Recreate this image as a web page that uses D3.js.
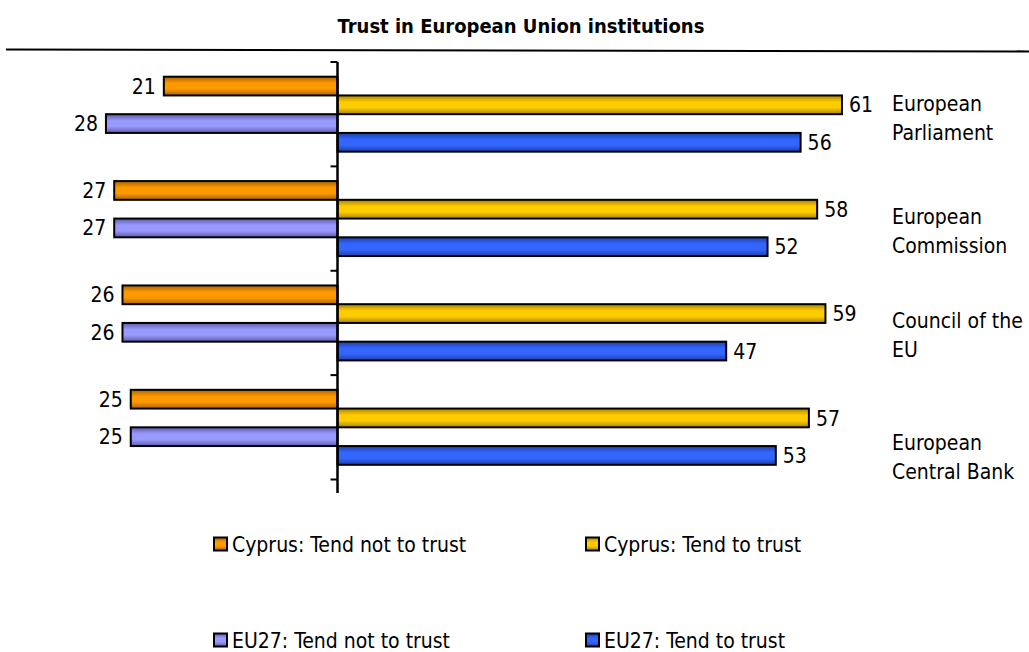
<!DOCTYPE html>
<html>
<head>
<meta charset="utf-8">
<script src="https://cdn.jsdelivr.net/npm/d3@7"></script>
<style>
  html, body { margin: 0; padding: 0; background: #fff; }
  svg { display: block; }
  text { font-family: "DejaVu Sans Condensed", "DejaVu Sans", sans-serif; font-stretch: condensed; fill: #000; }
</style>
</head>
<body>
<svg id="chart" width="1029" height="652"></svg>
<script>
// ---- data ----
const title = "Trust in European Union institutions";
const categories = ["European Parliament", "European Commission", "Council of the EU", "European Central Bank"];
const categoryLines = [["European", "Parliament"], ["European", "Commission"], ["Council of the", "EU"], ["European", "Central Bank"]];
const seriesNames = ["Cyprus: Tend not to trust", "Cyprus: Tend to trust", "EU27: Tend not to trust", "EU27: Tend to trust"];
const cyprusNotTrust = [21, 27, 26, 25];
const cyprusTrust = [61, 58, 59, 57];
const eu27NotTrust = [28, 27, 26, 25];
const eu27Trust = [56, 52, 47, 53];

// ---- styling ----
const seriesValues = [cyprusNotTrust, cyprusTrust, eu27NotTrust, eu27Trust];
const seriesSide = [-1, 1, -1, 1];
const colors = [
  { edge: "#a86400", mid: "#ff9900" },
  { edge: "#a88400", mid: "#ffcc00" },
  { edge: "#5c5ca8", mid: "#9999ff" },
  { edge: "#1d3fa8", mid: "#3366ff" }
];
const labelShift = [4, 12, 12, 30];
const fontSize = "21px";

const svg = d3.select("#chart");
const defs = svg.append("defs");
colors.forEach((c, i) => {
  const g = defs.append("linearGradient").attr("id", "grad" + i)
    .attr("x1", 0).attr("y1", 0).attr("x2", 0).attr("y2", 1);
  g.append("stop").attr("offset", "0%").attr("stop-color", c.edge);
  g.append("stop").attr("offset", "35%").attr("stop-color", c.mid);
  g.append("stop").attr("offset", "65%").attr("stop-color", c.mid);
  g.append("stop").attr("offset", "100%").attr("stop-color", c.edge);
});

// title + rule
svg.append("text").attr("x", 521).attr("y", 33).attr("text-anchor", "middle")
  .style("font-size", "20px").style("font-weight", "bold").text(title);
svg.append("line").attr("x1", 6).attr("y1", 49.5).attr("x2", 1029).attr("y2", 51.5)
  .attr("stroke", "#000").attr("stroke-width", 2.2);

// scales
const unit = 8.27;
const x0 = 337.5;
const x = d3.scaleLinear().domain([-30, 70]).range([x0 - 30 * unit, x0 + 70 * unit]);
const y = d3.scaleBand().domain(categories).range([62, 479.5]).padding(0);
const ys = d3.scaleBand().domain(seriesNames).range([14.7, y.bandwidth() - 14.7]).padding(0);

// bars
const bars = [];
seriesNames.forEach((s, si) => {
  categories.forEach((c, ci) => {
    bars.push({ s, si, c, ci, v: seriesValues[si][ci], side: seriesSide[si] });
  });
});

const g = svg.append("g");
g.selectAll("rect.bar").data(bars).enter().append("rect")
  .attr("class", "bar")
  .attr("x", d => d.side < 0 ? x(-d.v) : x(0))
  .attr("width", d => Math.abs(x(d.v) - x(0)))
  .attr("y", d => y(d.c) + ys(d.s))
  .attr("height", ys.bandwidth())
  .attr("fill", d => `url(#grad${d.si})`)
  .attr("stroke", "#000").attr("stroke-width", 2);

g.selectAll("text.val").data(bars).enter().append("text")
  .attr("class", "val")
  .attr("x", d => d.side < 0 ? x(-d.v) - 8 : x(d.v) + 7)
  .attr("y", d => y(d.c) + ys(d.s) + ys.bandwidth() / 2)
  .attr("dy", "0.36em")
  .attr("text-anchor", d => d.side < 0 ? "end" : "start")
  .style("font-size", fontSize)
  .text(d => d.v);

// axis
const tickYs = categories.map(c => y(c)).concat([y.range()[1]]);
svg.append("line").attr("x1", x(0)).attr("x2", x(0)).attr("y1", 62).attr("y2", 493)
  .attr("stroke", "#000").attr("stroke-width", 2.5);
svg.selectAll("line.tick").data(tickYs).enter().append("line")
  .attr("class", "tick")
  .attr("x1", x(0) - 7).attr("x2", x(0)).attr("y1", d => d).attr("y2", d => d)
  .attr("stroke", "#000").attr("stroke-width", 2);

// category labels
categories.forEach((c, ci) => {
  const cy = y(c) + y.bandwidth() / 2 + labelShift[ci];
  const t = svg.append("text").attr("x", 892).style("font-size", fontSize);
  categoryLines[ci].forEach((ln, li) => {
    t.append("tspan").attr("x", 892)
      .attr("y", cy + (li - (categoryLines[ci].length - 1) / 2) * 29)
      .attr("dy", "0.36em").text(ln);
  });
});

// legend
const legendX = [214, 586];
const legendY = [544, 640];
seriesNames.forEach((s, si) => {
  const lx = legendX[si % 2], ly = legendY[Math.floor(si / 2)];
  svg.append("rect").attr("x", lx).attr("y", ly - 6.5).attr("width", 13).attr("height", 13)
    .attr("fill", `url(#grad${si})`).attr("stroke", "#000").attr("stroke-width", 2);
  svg.append("text").attr("x", lx + 18).attr("y", ly).attr("dy", "0.36em")
    .style("font-size", fontSize).text(s);
});
</script>
</body>
</html>
